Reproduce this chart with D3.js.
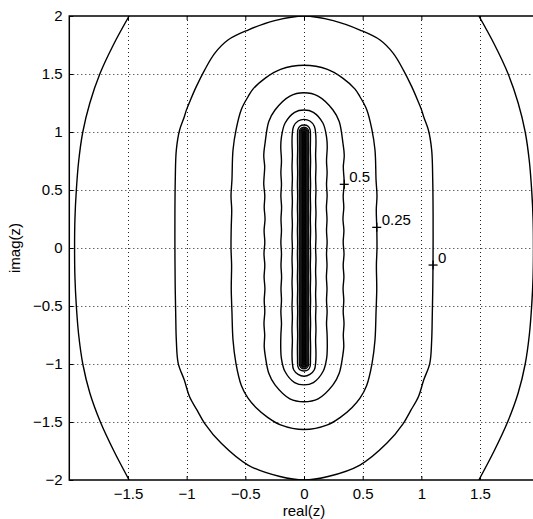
<!DOCTYPE html>
<html>
<head>
<meta charset="utf-8">
<script src="https://cdn.jsdelivr.net/npm/d3@7"></script>
<style>
  html, body { margin: 0; padding: 0; background: #fff; overflow: hidden; }
  svg { display: block; font-family: "Liberation Sans", Arial, Helvetica, sans-serif; }
</style>
</head>
<body>
<svg id="chart" width="533" height="519"></svg>
<script>
// ---- axis data -------------------------------------------------------------
const xDomain = [-2, 2];
const yDomain = [-2, 2];
const xTickValues = [-1.5, -1, -0.5, 0, 0.5, 1, 1.5];
const yTickValues = [-2, -1.5, -1, -0.5, 0, 0.5, 1, 1.5, 2];
const gridX = [-1.5, -1, -0.5, 0, 0.5, 1, 1.5];
const gridY = [-1.5, -1, -0.5, 0, 0.5, 1, 1.5];
const xLabel = "real(z)";
const yLabel = "imag(z)";

// ---- contour data (symmetric about the imaginary axis) --------------------
// Each closed contour is listed as its right half, from the top crossing of
// the imaginary axis down to the bottom crossing: [real, imag].
const contourLevel0 = [
  [0, 2.0], [0.25, 1.96], [0.477, 1.879], [0.648, 1.793], [0.761, 1.678],
  [0.847, 1.534], [0.918, 1.391], [0.97, 1.27], [1.0, 1.195], [1.022, 1.125],
  [1.06, 1.017], [1.088, 0.845], [1.097, 0.586], [1.1, 0.3], [1.1, 0],
  [1.098, -0.3], [1.093, -0.586], [1.088, -0.793], [1.072, -0.994],
  [1.02, -1.138], [0.975, -1.282], [0.91, -1.40], [0.847, -1.511],
  [0.705, -1.684], [0.477, -1.871], [0.205, -1.97], [0, -2.0]
];
const contourLevel025 = [
  [0, 1.575], [0.2, 1.54], [0.33, 1.465], [0.435, 1.37], [0.477, 1.304],
  [0.534, 1.195], [0.577, 1.03], [0.605, 0.845], [0.614, 0.586], [0.622, 0.45],
  [0.616, 0.33], [0.62, 0.18], [0.622, 0], [0.617, -0.15], [0.62, -0.35],
  [0.614, -0.55], [0.605, -0.793], [0.58, -0.994], [0.534, -1.185],
  [0.477, -1.295], [0.41, -1.375], [0.31, -1.46], [0.2, -1.525], [0, -1.565]
];
const contourLevel05 = [
  [0, 1.339], [0.12, 1.31], [0.247, 1.19], [0.30, 1.09], [0.332, 0.903],
  [0.343, 0.80], [0.335, 0.70], [0.341, 0.60], [0.343, 0.549], [0.334, 0.45],
  [0.339, 0.35], [0.332, 0.25], [0.34, 0.15], [0.334, 0.05], [0.341, -0.05],
  [0.334, -0.15], [0.34, -0.25], [0.333, -0.35], [0.339, -0.45],
  [0.334, -0.55], [0.341, -0.65], [0.335, -0.75], [0.339, -0.85],
  [0.33, -0.93], [0.30, -1.08], [0.247, -1.18], [0.12, -1.30], [0, -1.325]
];
const contourLevel075 = [
  [0, 1.19], [0.08, 1.17], [0.162, 1.075], [0.193, 0.95], [0.198, 0.873],
  [0.192, 0.75], [0.197, 0.65], [0.192, 0.55], [0.197, 0.45], [0.191, 0.35],
  [0.196, 0.25], [0.192, 0.15], [0.197, 0.05], [0.192, -0.05], [0.196, -0.15],
  [0.191, -0.25], [0.196, -0.35], [0.192, -0.45], [0.197, -0.55],
  [0.192, -0.65], [0.197, -0.75], [0.198, -0.873], [0.193, -0.95],
  [0.162, -1.065], [0.08, -1.16], [0, -1.18]
];
const contourLevel1 = [
  [0, 1.109], [0.05, 1.095], [0.088, 1.05], [0.1, 0.98], [0.102, 0.9],
  [0.099, 0.8], [0.102, 0.7], [0.099, 0.6], [0.102, 0.5], [0.099, 0.4],
  [0.102, 0.3], [0.099, 0.2], [0.102, 0.1], [0.099, 0], [0.102, -0.1],
  [0.099, -0.2], [0.102, -0.3], [0.099, -0.4], [0.102, -0.5], [0.099, -0.6],
  [0.102, -0.7], [0.099, -0.8], [0.102, -0.9], [0.1, -0.98], [0.088, -1.05],
  [0.05, -1.09], [0, -1.105]
];
const contourLevel125 = [
  [0, 1.06], [0.035, 1.05], [0.052, 1.02], [0.055, 0.95], [0.054, 0.85],
  [0.056, 0.75], [0.054, 0.65], [0.056, 0.55], [0.054, 0.45], [0.056, 0.35],
  [0.054, 0.25], [0.056, 0.15], [0.054, 0.05], [0.056, -0.05], [0.054, -0.15],
  [0.056, -0.25], [0.054, -0.35], [0.056, -0.45], [0.054, -0.55],
  [0.056, -0.65], [0.054, -0.75], [0.056, -0.85], [0.055, -0.95],
  [0.052, -1.02], [0.035, -1.05], [0, -1.06]
];
// innermost, tightly packed levels hugging the segment [-i, i]:
// half width in real(z) and the extreme imag(z) reached
const bandHalfWidths = [0.04, 0.033, 0.026, 0.019, 0.012, 0.006];
const bandHalfLengths = [1.042, 1.035, 1.027, 1.02, 1.012, 1.005];

// the lowest level: open curves leaving through the top and bottom edges
const contourOuter = [
  [1.49, 2.0], [1.625, 1.75], [1.74, 1.5], [1.825, 1.25], [1.885, 1.0],
  [1.92, 0.75], [1.94, 0.5], [1.952, 0.25], [1.955, 0], [1.952, -0.25],
  [1.94, -0.5], [1.92, -0.75], [1.885, -1.0], [1.825, -1.25], [1.735, -1.5],
  [1.62, -1.75], [1.49, -2.0]
];

// contour labels: level text and the point on the curve that carries it
const labelTexts = ["0.5", "0.25", "0"];
const labelPoints = [[0.343, 0.549], [0.62, 0.178], [1.10, -0.147]];

// ---- drawing ---------------------------------------------------------------
const svg = d3.select("#chart");
const x = d3.scaleLinear().domain(xDomain).range([69.3, 538.7]);
const y = d3.scaleLinear().domain(yDomain).range([480, 16]);
const fmt = d => (d < 0 ? "\u2212" + Math.abs(d) : String(d));

svg.append("defs").append("clipPath").attr("id", "plotClip")
  .append("rect")
  .attr("x", x(-2)).attr("y", y(2))
  .attr("width", x(2) - x(-2)).attr("height", y(-2) - y(2));

// dotted grid
const grid = svg.append("g")
  .attr("stroke", "#222").attr("stroke-width", 1)
  .attr("stroke-dasharray", "1,3");
grid.selectAll("line.gx").data(gridX).join("line")
  .attr("class", "gx")
  .attr("x1", d => Math.round(x(d)) + 0.5).attr("x2", d => Math.round(x(d)) + 0.5)
  .attr("y1", y(2)).attr("y2", y(-2));
grid.selectAll("line.gy").data(gridY).join("line")
  .attr("class", "gy")
  .attr("y1", d => Math.round(y(d)) + 0.5).attr("y2", d => Math.round(y(d)) + 0.5)
  .attr("x1", x(-2)).attr("x2", x(2));

// contours
const plot = svg.append("g").attr("clip-path", "url(#plotClip)");
const closedLine = d3.line().x(d => x(d[0])).y(d => y(d[1]))
  .curve(d3.curveCatmullRomClosed.alpha(0.5));
const openLine = d3.line().x(d => x(d[0])).y(d => y(d[1]))
  .curve(d3.curveCatmullRom.alpha(0.5));

function mirrorClosed(half) {
  const left = half.slice(1, -1).reverse().map(([re, im]) => [-re, im]);
  return half.concat(left);
}

const closedContours = [contourLevel0, contourLevel025, contourLevel05,
  contourLevel075, contourLevel1, contourLevel125];
plot.selectAll("path.closed").data(closedContours).join("path")
  .attr("class", "closed")
  .attr("d", d => closedLine(mirrorClosed(d)))
  .attr("fill", "none").attr("stroke", "#000").attr("stroke-width", 1.4);

const outerBranches = [contourOuter, contourOuter.map(([re, im]) => [-re, im])];
plot.selectAll("path.outer").data(outerBranches).join("path")
  .attr("class", "outer")
  .attr("d", d => openLine(d))
  .attr("fill", "none").attr("stroke", "#000").attr("stroke-width", 1.4);

plot.selectAll("rect.band").data(bandHalfWidths).join("rect")
  .attr("class", "band")
  .attr("x", d => x(-d))
  .attr("width", d => x(d) - x(-d))
  .attr("y", (d, i) => y(bandHalfLengths[i]))
  .attr("height", (d, i) => y(-bandHalfLengths[i]) - y(bandHalfLengths[i]))
  .attr("rx", d => x(d) - x(0))
  .attr("fill", "none").attr("stroke", "#000").attr("stroke-width", 1.2);
plot.append("line")
  .attr("x1", x(0)).attr("x2", x(0))
  .attr("y1", y(1.0)).attr("y2", y(-1.0))
  .attr("stroke", "#000").attr("stroke-width", 1.6);

// contour labels
const lab = svg.append("g");
labelPoints.forEach((p, i) => {
  const px = x(p[0]), py = y(p[1]);
  lab.append("line").attr("x1", px - 4.5).attr("x2", px + 4.5)
    .attr("y1", py).attr("y2", py).attr("stroke", "#000").attr("stroke-width", 1.3);
  lab.append("line").attr("x1", px).attr("x2", px)
    .attr("y1", py - 4.5).attr("y2", py + 4.5).attr("stroke", "#000").attr("stroke-width", 1.3);
  lab.append("text").attr("x", px + 5).attr("y", py - 2.5)
    .attr("font-size", 15).attr("fill", "#000").text(labelTexts[i]);
});

// axes with inward ticks
function styleAxis(g) {
  g.select(".domain").remove();
  g.selectAll(".tick line").attr("stroke", "#000").attr("stroke-width", 1);
  g.selectAll(".tick text").attr("font-size", 15).attr("fill", "#000")
    .attr("font-family", "Liberation Sans, Arial, Helvetica, sans-serif");
}
svg.append("g").attr("transform", `translate(0,${y(-2)})`)
  .call(d3.axisBottom(x).tickValues(xTickValues).tickFormat(fmt)
    .tickSizeInner(-4).tickSizeOuter(0).tickPadding(8))
  .call(styleAxis);
svg.append("g").attr("transform", `translate(0,${y(2)})`)
  .call(d3.axisTop(x).tickValues(xTickValues).tickFormat("")
    .tickSizeInner(-4).tickSizeOuter(0))
  .call(styleAxis);
svg.append("g").attr("transform", `translate(${x(-2)},0)`)
  .call(d3.axisLeft(y).tickValues(yTickValues).tickFormat(fmt)
    .tickSizeInner(-4).tickSizeOuter(0).tickPadding(6.6))
  .call(styleAxis);
svg.append("g").attr("transform", `translate(${x(2)},0)`)
  .call(d3.axisRight(y).tickValues(yTickValues).tickFormat("")
    .tickSizeInner(-4).tickSizeOuter(0))
  .call(styleAxis);

// frame
svg.append("rect")
  .attr("x", x(-2)).attr("y", y(2))
  .attr("width", x(2) - x(-2)).attr("height", y(-2) - y(2))
  .attr("fill", "none").attr("stroke", "#000").attr("stroke-width", 1.5);

// axis titles
svg.append("text").attr("x", x(0)).attr("y", 515.5)
  .attr("text-anchor", "middle").attr("font-size", 15).attr("fill", "#000")
  .text(xLabel);
svg.append("text")
  .attr("transform", `translate(20,${y(0)}) rotate(-90)`)
  .attr("text-anchor", "middle").attr("font-size", 15).attr("fill", "#000")
  .text(yLabel);
</script>
</body>
</html>
